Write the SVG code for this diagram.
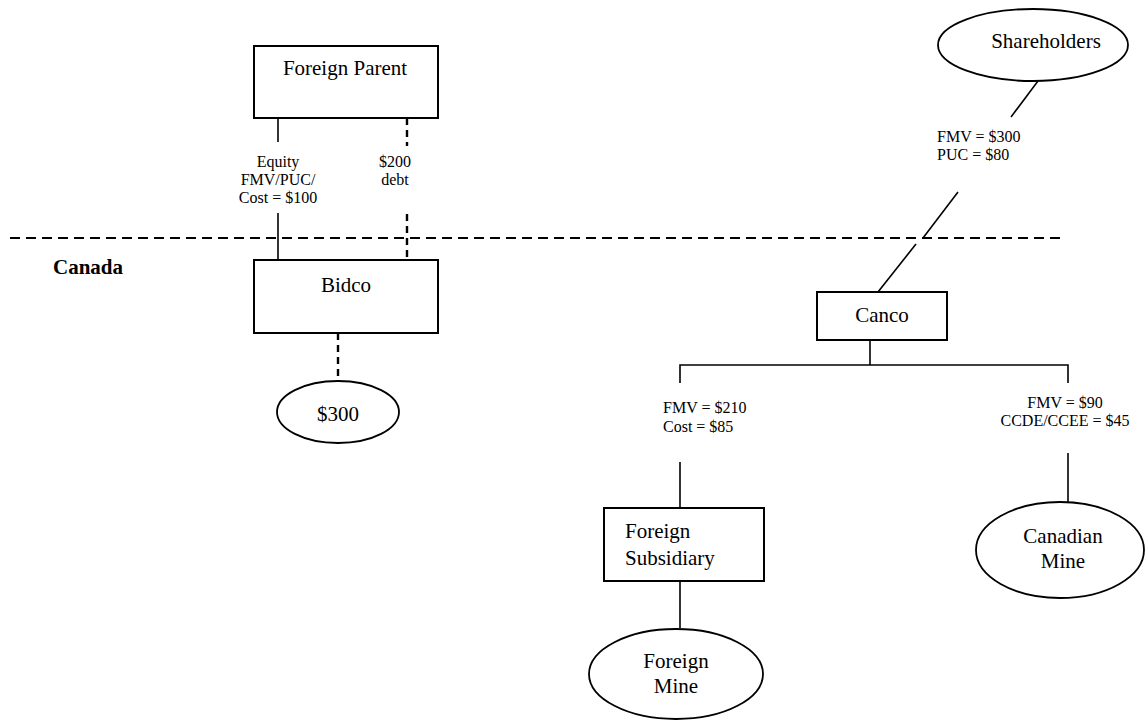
<svg xmlns="http://www.w3.org/2000/svg" width="1145" height="722" viewBox="0 0 1145 722">
<style>
.box{fill:#fff;stroke:#000;stroke-width:2}
.ell{fill:#fff;stroke:#000;stroke-width:1.8}
.ln{stroke:#000;stroke-width:1.6;fill:none}
.dl{stroke:#000;stroke-width:2.4;fill:none;stroke-dasharray:7 5}
.bd{stroke:#000;stroke-width:2.2;fill:none;stroke-dasharray:10 6}
text{font-family:"Liberation Serif","Times New Roman",serif;fill:#000}
.big{font-size:21px}
.sm{font-size:16px}
.mid{text-anchor:middle}
</style>
<rect width="1145" height="722" fill="#fff"/>
<g id="connectors">
<line class="bd" x1="10" y1="238" x2="1062" y2="238"/>
<line class="ln" x1="278" y1="118" x2="278" y2="142"/>
<line class="ln" x1="278" y1="213" x2="278" y2="260"/>
<line class="dl" x1="407" y1="118" x2="407" y2="146"/>
<line class="dl" x1="407" y1="214" x2="407" y2="260"/>
<line class="dl" x1="338" y1="333" x2="338" y2="381"/>
<line class="ln" x1="1038" y1="81" x2="1011" y2="117"/>
<line class="ln" x1="958" y1="192" x2="923" y2="238"/>
<line class="ln" x1="916" y1="244" x2="878" y2="292"/>
<polyline class="ln" points="870,340 870,365"/>
<polyline class="ln" points="680,383 680,365 1068,365 1068,383"/>
<line class="ln" x1="680" y1="462" x2="680" y2="508"/>
<line class="ln" x1="680" y1="581" x2="680" y2="628"/>
<line class="ln" x1="1068" y1="453" x2="1068" y2="502"/>
</g>
<g id="labels">
<text class="sm mid" x="278" y="167">Equity</text>
<text class="sm mid" x="278" y="185">FMV/PUC/</text>
<text class="sm mid" x="278" y="203">Cost = $100</text>
<text class="sm mid" x="395" y="167">$200</text>
<text class="sm mid" x="395" y="185">debt</text>
<text class="sm" x="937" y="142">FMV = $300</text>
<text class="sm" x="937" y="160">PUC = $80</text>
<text class="sm" x="663" y="413">FMV = $210</text>
<text class="sm" x="663" y="432">Cost = $85</text>
<text class="sm mid" x="1065" y="408">FMV = $90</text>
<text class="sm mid" x="1065" y="426">CCDE/CCEE = $45</text>
<text x="53" y="274" style="font-size:21px;font-weight:bold">Canada</text>
</g>
<g id="foreign-parent">
<rect class="box" x="254" y="46" width="184" height="72"/>
<text class="big mid" x="345" y="75">Foreign Parent</text>
</g>
<g id="bidco">
<rect class="box" x="254" y="260" width="184" height="73"/>
<text class="big mid" x="346" y="292">Bidco</text>
</g>
<g id="cash">
<ellipse class="ell" cx="338" cy="412" rx="61" ry="31"/>
<text class="big mid" x="338" y="421">$300</text>
</g>
<g id="shareholders">
<ellipse class="ell" cx="1033" cy="45" rx="95" ry="36"/>
<text class="big mid" x="1046" y="48">Shareholders</text>
</g>
<g id="canco">
<rect class="box" x="817" y="292" width="130" height="48"/>
<text class="big mid" x="882" y="322">Canco</text>
</g>
<g id="foreign-subsidiary">
<rect class="box" x="604" y="508" width="160" height="73"/>
<text class="big" x="625" y="538">Foreign</text>
<text class="big" x="625" y="565">Subsidiary</text>
</g>
<g id="foreign-mine">
<ellipse class="ell" cx="676" cy="674" rx="87" ry="45"/>
<text class="big mid" x="676" y="668">Foreign</text>
<text class="big mid" x="676" y="693">Mine</text>
</g>
<g id="canadian-mine">
<ellipse class="ell" cx="1060" cy="550" rx="84" ry="48"/>
<text class="big mid" x="1063" y="543">Canadian</text>
<text class="big mid" x="1063" y="568">Mine</text>
</g>
</svg>
